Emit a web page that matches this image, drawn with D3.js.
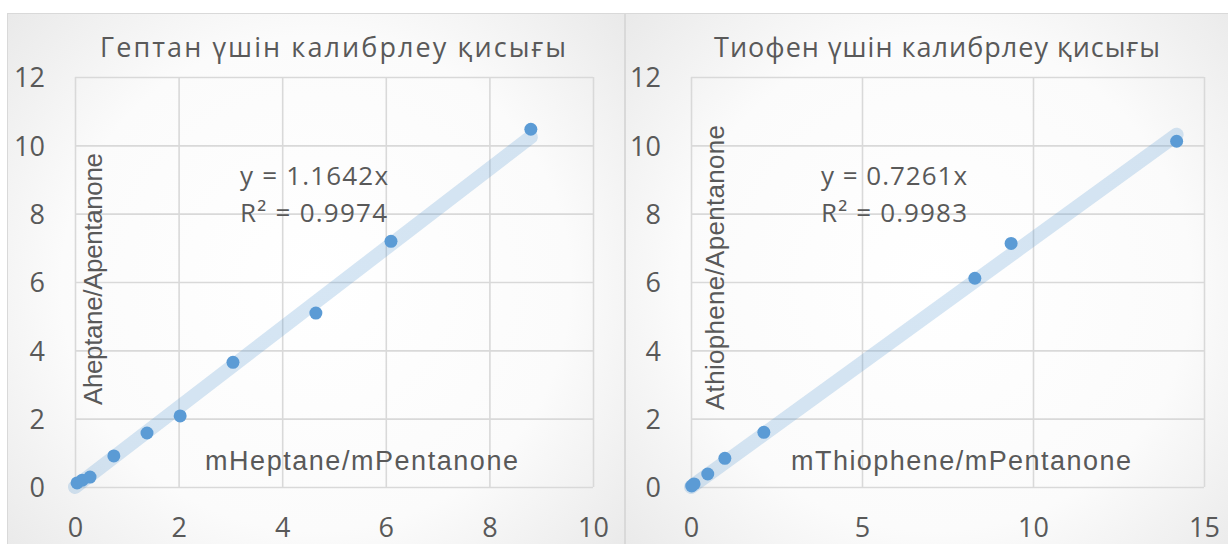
<!DOCTYPE html>
<html>
<head>
<meta charset="utf-8">
<script src="https://cdn.jsdelivr.net/npm/d3@7"></script>
<style>
  html, body { margin: 0; padding: 0; background: #ffffff; }
  svg { display: block; }
</style>
</head>
<body>
<svg id="chart" width="1228" height="544"></svg>
<script>
// Heptane calibration (mass ratio vs peak-area ratio)
const heptaneX = [0.04, 0.14, 0.29, 0.75, 1.39, 2.03, 3.05, 4.65, 6.10, 8.80];
const heptaneY = [0.12, 0.20, 0.29, 0.91, 1.58, 2.08, 3.65, 5.09, 7.19, 10.47];
const heptaneSlope = 1.1642;
const heptaneR2 = 0.9974;

// Thiophene calibration
const thiopheneX = [0.02, 0.09, 0.49, 0.99, 2.13, 8.30, 9.36, 14.20];
const thiopheneY = [0.03, 0.09, 0.38, 0.84, 1.60, 6.11, 7.13, 10.12];
const thiopheneSlope = 0.7261;
const thiopheneR2 = 0.9983;

// Axis ticks
const yTicks = [0, 2, 4, 6, 8, 10, 12];
const heptaneXTicks = [0, 2, 4, 6, 8, 10];
const thiopheneXTicks = [0, 5, 10, 15];

const titles = ["Гептан үшін калибрлеу қисығы", "Тиофен үшін калибрлеу қисығы"];
const xTitles = ["mHeptane/mPentanone", "mThiophene/mPentanone"];
const yTitles = ["Aheptane/Apentanone", "Athiophene/Apentanone"];

const svg = d3.select("#chart");
const TEXT = "#595959";
const GRID = "#d9d9d9";
const DOT = "#5b9bd5";

// soft radial shading of the chart areas
const defs = svg.append("defs");
const grad = defs.append("radialGradient").attr("id", "bg")
  .attr("cx", "50%").attr("cy", "45%").attr("r", "75%");
grad.append("stop").attr("offset", "0%").attr("stop-color", "#ffffff");
grad.append("stop").attr("offset", "55%").attr("stop-color", "#fbfbfb");
grad.append("stop").attr("offset", "100%").attr("stop-color", "#e4e4e4");

const panels = [
  {
    box: [7.5, 13.5, 617, 600],
    xs: heptaneX, ys: heptaneY, slope: heptaneSlope, r2: heptaneR2,
    xDomain: [0, 10], xRange: [75, 593], xTicks: heptaneXTicks,
    title: titles[0], titleX: 333, titleLen: 466,
    xTitle: xTitles[0], xTitleX: 205, xTitleLen: 313,
    yTitle: yTitles[0], yTitleX: 102, yTitleY: 405, yTitleLen: 252,
    eqX: 240, eqLen: 148, r2Len: 147
  },
  {
    box: [625.5, 13.5, 620, 600],
    xs: thiopheneX, ys: thiopheneY, slope: thiopheneSlope, r2: thiopheneR2,
    xDomain: [0, 15], xRange: [691, 1204], xTicks: thiopheneXTicks,
    title: titles[1], titleX: 937, titleLen: 446,
    xTitle: xTitles[1], xTitleX: 791, xTitleLen: 340,
    yTitle: yTitles[1], yTitleX: 724, yTitleY: 410, yTitleLen: 285,
    eqX: 821, eqLen: 146, r2Len: 146
  }
];

panels.forEach(p => {
  const g = svg.append("g");

  g.append("rect")
    .attr("x", p.box[0]).attr("y", p.box[1])
    .attr("width", p.box[2]).attr("height", p.box[3])
    .attr("fill", "url(#bg)")
    .attr("stroke", GRID).attr("stroke-width", 1);

  const x = d3.scaleLinear().domain(p.xDomain).range(p.xRange);
  const y = d3.scaleLinear().domain([0, 12]).range([487, 77]);
  const plotW = p.xRange[1] - p.xRange[0];
  const plotH = 487 - 77;

  // y axis with horizontal gridlines
  const ya = g.append("g")
    .attr("transform", `translate(${p.xRange[0]},0)`)
    .call(d3.axisLeft(y).tickValues(yTicks).tickSize(-plotW).tickPadding(30));
  // x axis with vertical gridlines
  const xa = g.append("g")
    .attr("transform", "translate(0,487)")
    .call(d3.axisBottom(x).tickValues(p.xTicks).tickSize(-plotH).tickPadding(31));

  [ya, xa].forEach(a => {
    a.select(".domain").remove();
    a.selectAll(".tick line").attr("stroke", GRID).attr("stroke-width", 1.6);
    a.selectAll(".tick text")
      .attr("fill", TEXT)
      .style("font-family", "'Open Sans', 'Noto Sans', sans-serif")
      .style("font-size", "27px");
  });
  ya.selectAll(".tick text").attr("dy", "0.36em");
  xa.selectAll(".tick text").attr("dy", "0.71em");

  // chart title
  g.append("text")
    .attr("x", p.titleX).attr("y", 57)
    .attr("text-anchor", "middle")
    .attr("textLength", p.titleLen).attr("lengthAdjust", "spacing")
    .attr("fill", TEXT)
    .style("font-family", "'Open Sans', 'Noto Sans', sans-serif")
    .style("font-size", "27px")
    .text(p.title);

  // axis titles drawn inside the plot area
  g.append("text")
    .attr("x", p.xTitleX).attr("y", 470)
    .attr("textLength", p.xTitleLen).attr("lengthAdjust", "spacing")
    .attr("fill", TEXT)
    .style("font-family", "'Liberation Sans', Arial, sans-serif")
    .style("font-size", "27px")
    .text(p.xTitle);

  g.append("text")
    .attr("transform", `translate(${p.yTitleX},${p.yTitleY}) rotate(-90)`)
    .attr("textLength", p.yTitleLen).attr("lengthAdjust", "spacing")
    .attr("fill", TEXT)
    .style("font-family", "'Liberation Sans', Arial, sans-serif")
    .style("font-size", "26px")
    .text(p.yTitle);

  // linear trendline through the origin
  const xMax = d3.max(p.xs);
  const line = d3.line().x(d => x(d)).y(d => y(d * p.slope));
  g.append("path")
    .datum([0, xMax])
    .attr("d", line)
    .attr("fill", "none")
    .attr("stroke", DOT).attr("stroke-opacity", 0.25)
    .attr("stroke-width", 14)
    .attr("stroke-linecap", "round");

  // data points
  g.selectAll("circle.pt")
    .data(p.xs.map((v, i) => [v, p.ys[i]]))
    .join("circle")
    .attr("class", "pt")
    .attr("cx", d => x(d[0])).attr("cy", d => y(d[1]))
    .attr("r", 6.5)
    .attr("fill", DOT);

  // regression equation
  const eq = g.append("g")
    .attr("fill", TEXT)
    .style("font-family", "'Open Sans', 'Noto Sans', sans-serif")
    .style("font-size", "26px");
  eq.append("text")
    .attr("x", p.eqX).attr("y", 185)
    .attr("textLength", p.eqLen).attr("lengthAdjust", "spacing")
    .text(`y = ${p.slope.toFixed(4)}x`);
  eq.append("text")
    .attr("x", p.eqX).attr("y", 222)
    .attr("textLength", p.r2Len).attr("lengthAdjust", "spacing")
    .text(`R² = ${p.r2.toFixed(4)}`);
});
</script>
</body>
</html>
